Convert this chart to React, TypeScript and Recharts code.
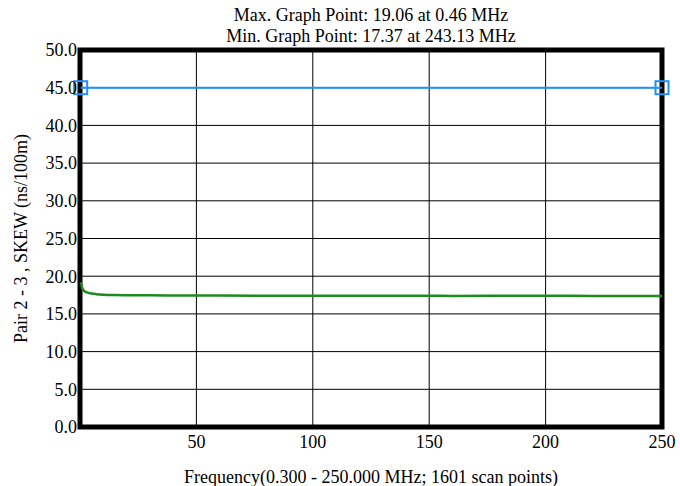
import React from "react";
import {
  LineChart,
  Line,
  XAxis,
  YAxis,
  CartesianGrid,
  ReferenceArea,
} from "recharts";

const titleLines = [
  "Max. Graph Point: 19.06 at 0.46 MHz",
  "Min. Graph Point: 17.37 at 243.13 MHz",
];
const xAxisTitle = "Frequency(0.300 - 250.000 MHz; 1601 scan points)";
const yAxisTitle = "Pair 2 - 3 , SKEW (ns/100m)";

const xTicks = [50, 100, 150, 200, 250];
const yTicks = [0, 5, 10, 15, 20, 25, 30, 35, 40, 45, 50];

const skewFreq = [
  0.3, 0.46, 1, 2, 3, 5, 7, 10, 15, 20, 30, 40, 50, 60, 80, 100, 120, 140,
  150, 160, 180, 200, 220, 243.13, 250,
];
const skewValues = [
  18.9, 19.06, 18.4, 18.0, 17.85, 17.7, 17.62, 17.55, 17.5, 17.48, 17.46,
  17.45, 17.44, 17.43, 17.42, 17.42, 17.41, 17.4, 17.4, 17.39, 17.4, 17.41,
  17.39, 17.37, 17.38,
];

const limitFreq = [0.3, 250];
const limitValues = [45, 45];

const skewData = skewFreq.map((f, i) => ({ f, v: skewValues[i] }));
const limitData = limitFreq.map((f, i) => ({ f, v: limitValues[i] }));

const FONT = "'Liberation Serif', 'Times New Roman', serif";

const SquareDot = (props: any) => {
  const { cx, cy, index } = props;
  if (cx == null || cy == null) return <g key={index} />;
  return (
    <rect
      key={index}
      x={cx - 6.5}
      y={cy - 6.5}
      width={13}
      height={13}
      fill="none"
      stroke="#1E90FF"
      strokeWidth={2}
    />
  );
};

export default function App() {
  const W = 680;
  const H = 486;
  const left = 80;
  const right = 662;
  const top = 50;
  const bottom = 427;
  const cx = (left + right) / 2;
  const cy = (top + bottom) / 2;
  return (
    <div style={{ position: "absolute", left: 0, top: 0, width: W, height: H, background: "#fff" }}>
      <LineChart
        width={W}
        height={H}
        margin={{ top: top, right: W - right, bottom: 0, left: 0 }}
        style={{ fontFamily: FONT }}
      >
        <CartesianGrid stroke="#000" strokeWidth={1} />
        <XAxis
          dataKey="f"
          type="number"
          domain={[0, 250]}
          ticks={xTicks}
          height={H - bottom}
          axisLine={false}
          tickLine={false}
          tickSize={0}
          tickMargin={8}
          tick={{ fill: "#000", fontSize: 18, fontFamily: FONT }}
        />
        <YAxis
          dataKey="v"
          type="number"
          domain={[0, 50]}
          ticks={yTicks}
          width={left}
          axisLine={false}
          tickLine={false}
          tickSize={0}
          tickMargin={3}
          tickFormatter={(v: number) => v.toFixed(1)}
          tick={{ fill: "#000", fontSize: 18, fontFamily: FONT }}
        />
        <ReferenceArea
          x1={0}
          x2={250}
          y1={0}
          y2={50}
          fill="none"
          fillOpacity={0}
          stroke="#000"
          strokeWidth={5}
        />
        <Line
          data={skewData}
          dataKey="v"
          type="monotone"
          stroke="#1F8A1F"
          strokeWidth={2.5}
          dot={false}
          isAnimationActive={false}
        />
        <Line
          data={limitData}
          dataKey="v"
          type="linear"
          stroke="#1E90FF"
          strokeWidth={2}
          dot={<SquareDot />}
          isAnimationActive={false}
        />
        <text x={cx} y={21} textAnchor="middle" fontSize={18} fontFamily={FONT} fill="#000">
          {titleLines[0]}
        </text>
        <text x={cx} y={42} textAnchor="middle" fontSize={18} fontFamily={FONT} fill="#000">
          {titleLines[1]}
        </text>
        <text x={cx} y={483} textAnchor="middle" fontSize={18} fontFamily={FONT} fill="#000">
          {xAxisTitle}
        </text>
        <text
          x={27}
          y={cy}
          textAnchor="middle"
          fontSize={18}
          fontFamily={FONT}
          fill="#000"
          transform={`rotate(-90, 27, ${cy})`}
        >
          {yAxisTitle}
        </text>
      </LineChart>
    </div>
  );
}
